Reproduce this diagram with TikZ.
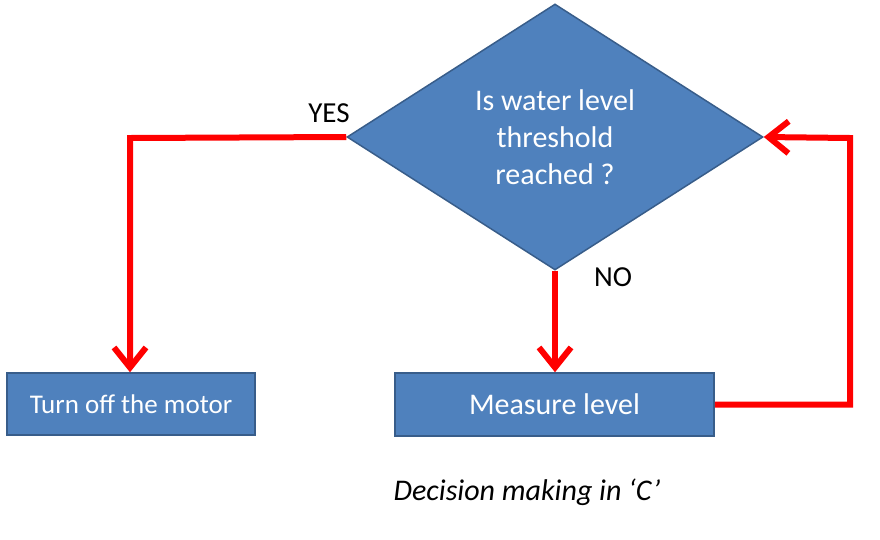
\documentclass[tikz,border=0pt]{standalone}
\usepackage{fontspec}
\setmainfont{Carlito}
\usetikzlibrary{shapes.geometric,arrows.meta}
\definecolor{boxblue}{HTML}{4F81BD}
\definecolor{boxedge}{HTML}{385D8A}
\begin{document}
\begin{tikzpicture}[x=1pt,y=-1pt,
  boxstyle/.style={draw=boxedge,line width=1.5pt,fill=boxblue,text=white,inner sep=0pt},
  flow/.style={draw=red,line width=6pt,-{Straight Barb[length=20pt,width=32pt]}},
  lbl/.style={font=\fontsize{29}{33}\selectfont,inner sep=0pt}]
\useasboundingbox (0,0) rectangle (880,539);
\node[boxstyle,diamond,minimum width=416pt,minimum height=266pt,aspect=1.564,
      align=center,font=\fontsize{30}{37}\selectfont] (dec) at (555,137)
      {Is water level\\threshold\\reached ?};
\node[boxstyle,rectangle,minimum width=248pt,minimum height=62pt,
      font=\fontsize{27}{32}\selectfont] (off) at (131,404) {Turn off the motor};
\node[boxstyle,rectangle,minimum width=319pt,minimum height=63pt,
      font=\fontsize{30}{36}\selectfont] (meas) at (554.5,404.5) {Measure level};
\coordinate (cl) at (130,138);
\coordinate (cr1) at (850,404.5);
\coordinate (cr2) at (850,138);
\draw[flow,line join=miter] (dec.west) -- (cl) -- (off.north -| cl);
\draw[flow] (dec.south) -- (meas.north -| dec.south);
\draw[flow,line join=miter] (meas.east) -- (cr1) -- (cr2) -- (dec.east);
\node[lbl] (yes) at (329,113) {YES};
\node[lbl] (no) at (613,277) {NO};
\node[inner sep=0pt,font=\fontsize{30}{36}\selectfont\itshape] (cap) at (527,492)
  {Decision making in ‘C’};
\end{tikzpicture}
\end{document}
